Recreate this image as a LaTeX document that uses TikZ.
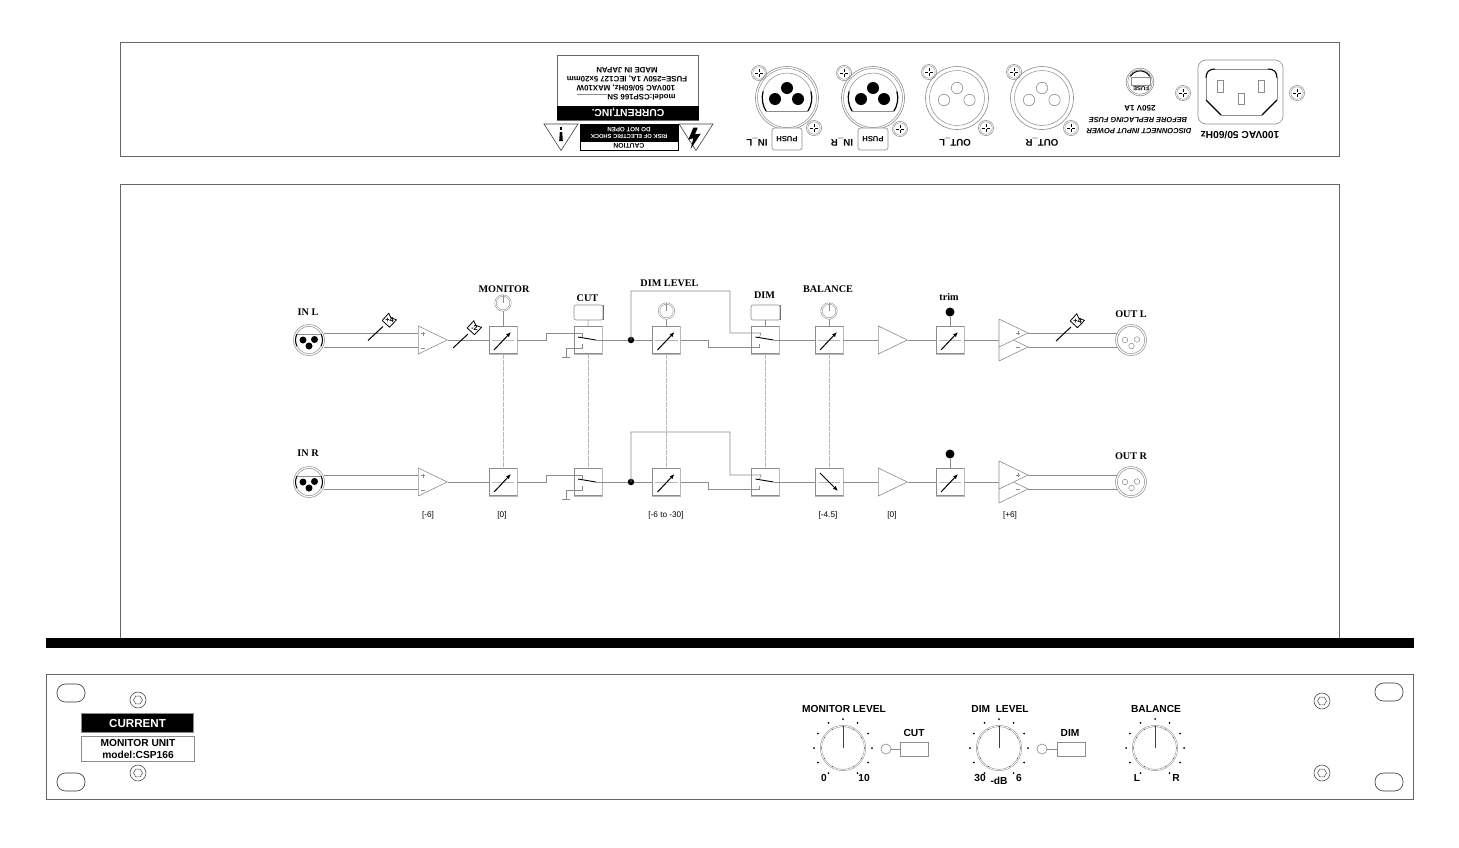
\documentclass[tikz,border=0pt]{standalone}
\usepackage{fontspec}
\setmainfont{Liberation Sans}
\newfontfamily\srf{Liberation Serif}
\usetikzlibrary{shapes.geometric,arrows.meta,calc}
\definecolor{wiregray}{gray}{0.55}
\definecolor{panelgray}{gray}{0.4}
\definecolor{boxgray}{gray}{0.72}
\tikzset{
 panel/.style={draw=panelgray,line width=0.9pt},
 wire/.style={draw=wiregray,line width=0.6pt},
 linkline/.style={draw=boxgray,line width=0.6pt,dash pattern=on 5pt off 1pt},
 unitbox/.style={draw=wiregray,line width=0.6pt,minimum width=28pt,minimum height=27.5pt,inner sep=0pt},
 amp/.style={draw=wiregray,line width=0.6pt,isosceles triangle,isosceles triangle apex angle=51.5,isosceles triangle stretches,minimum width=28pt,minimum height=29pt,inner sep=0pt,anchor=lower side},
 knobring/.style={circle,draw=wiregray,line width=0.5pt,double=white,double distance=0.9pt,minimum size=15pt,inner sep=0pt},
 push/.style={draw=wiregray,line width=0.6pt,rounded corners=2pt,minimum width=29pt,minimum height=15pt,inner sep=0pt},
 blackdot/.style={circle,fill=black,inner sep=0pt},
 dlabel/.style={font=\srf\bfseries\fontsize{10.2}{11}\selectfont,inner sep=0pt},
 gain/.style={font=\fontsize{8.2}{9}\selectfont,inner sep=0pt},
 rear/.style={font=\bfseries\fontsize{9.7}{10}\selectfont,rotate=180,inner sep=0pt},
 plate/.style={font=\bfseries\fontsize{7.85}{9}\selectfont,rotate=180,inner sep=0pt},
 front/.style={font=\bfseries\fontsize{10.2}{11}\selectfont,inner sep=0pt},
 oblong/.style={draw=black!80,line width=0.6pt,rounded corners=8.5pt,minimum width=28pt,minimum height=18pt,inner sep=0pt},
 thinring/.style={circle,draw=wiregray,line width=0.6pt,inner sep=0pt},
 arrowline/.style={line width=1pt,-{Latex[length=5pt,width=4pt]}},
}
% rear panel screw
\newcommand\rscrew[2]{%
 \begin{scope}[shift={(#1,#2)}]
  \draw[wiregray,line width=0.5pt] (0,0) circle (7.6);
  \draw[wiregray,line width=0.4pt] (0,0) circle (6.2);
  \draw[black,line width=0.9pt] (-4,0)--(-1.4,0) (1.4,0)--(4,0) (0,-4)--(0,-1.4) (0,1.4)--(0,4);
 \end{scope}}
% big rear XLR with black pins
\newcommand\bigxlr[2]{%
 \begin{scope}[shift={(#1,#2)},y=1pt]
  \draw[wiregray,line width=0.6pt] (0,0) circle (31.5);
  \draw[wiregray,line width=0.5pt] (0,0) circle (29.5);
  \draw[wiregray,line width=0.5pt] (-21,-13) arc[start angle=212,end angle=-32,radius=24.8];
  \draw[wiregray,line width=0.5pt] (-21,-13)--(21,-13);
  \draw[black,line width=1.2pt] (-21,-13) arc[start angle=212,end angle=165,radius=24.8];
  \draw[black,line width=1.2pt] (21,-13) arc[start angle=-32,end angle=15,radius=24.8];
  \fill (-12,-1) circle (6);
  \fill (0,10) circle (6);
  \fill (11,-1) circle (6);
 \end{scope}}
% big rear XLR with open holes
\newcommand\openxlr[2]{%
 \begin{scope}[shift={(#1,#2)},y=1pt]
  \draw[wiregray,line width=0.6pt] (0,0) circle (31.5);
  \draw[wiregray,line width=0.5pt] (0,0) circle (27.5);
  \draw[wiregray,line width=0.6pt] (-13,-2) circle (5.7);
  \draw[wiregray,line width=0.6pt] (0,10) circle (5.7);
  \draw[wiregray,line width=0.6pt] (12.5,-2) circle (5.7);
 \end{scope}}
% small diagram XLR, input
\newcommand\smallin[3]{%
 \node[circle,minimum size=31pt,inner sep=0pt,draw=wiregray,line width=0.5pt] (#1) at (#2,#3) {};
 \begin{scope}[shift={(#2,#3)},y=1pt]
  \draw[wiregray,line width=0.5pt] (0,0) circle (13.6);
  \draw[black,line width=1pt] (-12,6) arc[start angle=153,end angle=207,radius=13.4];
  \draw[black,line width=1pt] (12,6) arc[start angle=27,end angle=-27,radius=13.4];
  \draw[wiregray,line width=0.5pt] (-12,6)--(12,6);
  \fill (-6,0) circle (3.5);
  \fill (0,-6) circle (3.5);
  \fill (5.5,0.5) circle (3.5);
 \end{scope}}
% small diagram XLR, output
\newcommand\smallout[3]{%
 \node[circle,minimum size=31pt,inner sep=0pt,draw=wiregray,line width=0.5pt] (#1) at (#2,#3) {};
 \begin{scope}[shift={(#2,#3)},y=1pt]
  \draw[wiregray,line width=0.5pt] (0,0) circle (13.6);
  \draw[wiregray,line width=0.5pt] (-6,0) circle (2.8);
  \draw[wiregray,line width=0.5pt] (0.5,-6) circle (2.8);
  \draw[wiregray,line width=0.5pt] (6,0.5) circle (2.8);
 \end{scope}}
% variable gain unit: name, x, y, arrow start dx,dy, end dx,dy
\newcommand\vcaunit[7]{%
 \node[unitbox] (#1) at (#2,#3) {};
 \draw[boxgray,line width=1pt] (#1.north east)--(#1.south east)--(#1.south west);
 \draw[boxgray,line width=0.5pt] ($(#1.west)+(3,0)$)--($(#1.east)+(-3,0)$);
 \draw[arrowline] ($(#1.center)+(#4,#5)$)--($(#1.center)+(#6,#7)$);}
% switch unit: name, x, y
\newcommand\swunit[3]{%
 \node[unitbox] (#1) at (#2,#3) {};
 \draw[boxgray,line width=1pt] (#1.north east)--(#1.south east)--(#1.south west);
 \coordinate (#1in) at ($(#1.center)+(-6,-3)$);
 \coordinate (#1lo) at ($(#1.center)+(-6,4)$);
 \coordinate (#1out) at ($(#1.center)+(8,0)$);
 \draw[black,line width=0.9pt] ($(#1.center)+(-10,-3)$)--(#1out);
 \draw[wire] (#1out)--(#1.east);}
% level tag: x,y of stem foot, gain text
\newcommand\leveltag[4]{%
 \coordinate (#1f) at (#2,#3);
 \coordinate (#1c) at ($(#1f)+(21.5,-20)$);
 \draw[black,line width=1pt] (#1f)--($(#1f)+(15,-14)$);
 \draw[black,line width=0.8pt,fill=white,line join=round] ($(#1c)+(-7.3,0)$)--($(#1c)+(-0.7,-7.3)$)--($(#1c)+(1.3,-2.7)$)--($(#1c)+(7,-0.7)$)--($(#1c)+(0,6.7)$)--cycle;
 \node[font=\bfseries\fontsize{7.2}{8}\selectfont,inner sep=0pt] (#1t) at (#1c) {#4};}
% front panel knob: name, x, y
\newcommand\fknob[3]{%
 \node[circle,minimum size=44pt,inner sep=0pt,draw=wiregray,line width=0.5pt,double=white,double distance=0.8pt] (#1) at (#2,#3) {};
 \draw[black!75,line width=0.8pt] (#1.center)--(#1.north);
 \foreach \a in {-150,-120,...,150}{
  \fill ($(#1.center)+({29*sin(\a)},{-29*cos(\a)})$) circle (1);
  \fill ($(#1.center)+({21.5*sin(\a)},{-21.5*cos(\a)})$) circle (0.45);}}
\newcommand\hexscrew[3]{%
 \node[thinring,draw=black!70,minimum size=16pt] (#1) at (#2,#3) {};
 \node[regular polygon,regular polygon sides=6,draw=black!70,line width=0.5pt,minimum size=9pt,inner sep=0pt] (#1h) at (#2,#3) {};}
\begin{document}
\begin{tikzpicture}[x=1pt,y=-1pt]
\useasboundingbox (0,0) rectangle (1459,847);
\fill[white] (0,0) rectangle (1459,847);
% ===== panels =====
\draw[panel] (120.5,42.5) rectangle (1339.5,156.5);
\draw[panel] (120.5,638)--(120.5,184.5)--(1339.5,184.5)--(1339.5,638);
\fill[black] (46,638) rectangle (1414,647.5);
\draw[panel] (46.5,674.5) rectangle (1413.5,799.5);
% ===== rear: label plate =====
\draw[panelgray,line width=0.7pt] (557,55) rectangle (698.5,120);
\fill[black] (557,105.5) rectangle (698.5,120);
\node[rotate=180,text=white,font=\bfseries\fontsize{10.3}{11}\selectfont,inner sep=0pt] (lbrand) at (628,112.5) {CURRENT,INC.};
\node[plate] (lmade) at (627,70) {MADE IN JAPAN};
\node[plate] (lfuse) at (627,78.5) {FUSE=250V 1A, IEC127 5x20mm};
\node[plate] (lvac) at (626,87.5) {100VAC 50/60Hz, MAX10W};
\node[plate] (lmodel) at (641.5,97) {model:CSP166 SN};
\draw[wiregray,line width=0.7pt] (lmodel.east |- 0,94)--(577,94);
% caution
\draw[black,line width=0.5pt] (580,124) rectangle (678,150);
\fill[black] (580,124) rectangle (678,141.8);
\node[rotate=180,text=white,font=\bfseries\fontsize{6.2}{7}\selectfont,inner sep=0pt] (cdo) at (629,129.3) {DO NOT OPEN};
\node[rotate=180,text=white,font=\bfseries\fontsize{5.8}{6}\selectfont,inner sep=0pt] (crisk) at (629,136) {RISK OF ELECTRIC SHOCK};
\node[rotate=180,font=\bfseries\fontsize{6.8}{7}\selectfont,inner sep=0pt] (ccau) at (629,146) {CAUTION};
\draw[black!75,line width=0.6pt] (544,124)--(578,124)--(561,150.5)--cycle;
\draw[black!75,line width=0.6pt] (679,124)--(713,124)--(696,150.5)--cycle;
\fill[black] (559.8,127) rectangle (562.2,130);
\fill[black] (559.8,132)--(562.2,132)--(562.8,141)--(559.2,141)--cycle;
\fill[black] (693.3,127.7)--(697.7,127.7)--(695,134.3)--(700.7,133.7)--(690.7,149)--(693.3,138.3)--(688.3,139.7)--cycle;
% ===== rear: connectors =====
\bigxlr{787}{98}\bigxlr{873}{98}
\openxlr{957}{98}\openxlr{1042}{98}
\rscrew{759}{73}\rscrew{814}{128}\rscrew{844}{73}\rscrew{900}{129}
\rscrew{929}{72}\rscrew{986}{128}\rscrew{1014}{72}\rscrew{1071}{128}
\rscrew{1183}{93}\rscrew{1297}{93}
\fill[white] (772,128) rectangle (802,150);
\fill[white] (858,128) rectangle (888,150);
\draw[wiregray,line width=0.6pt,rounded corners=2.5pt] (772,128) rectangle (802,150);
\draw[wiregray,line width=0.6pt,rounded corners=2.5pt] (858,128) rectangle (888,150);
\node[rotate=180,font=\bfseries\fontsize{7.6}{8}\selectfont,inner sep=0pt] (pushl) at (787,139) {PUSH};
\node[rotate=180,font=\bfseries\fontsize{7.6}{8}\selectfont,inner sep=0pt] (pushr) at (873,139) {PUSH};
\node[rear] (tinl) at (757,142) {IN\_L};
\node[rear] (tinr) at (842,142) {IN\_R};
\node[rear] (toutl) at (955,142) {OUT\_L};
\node[rear] (toutr) at (1042,142) {OUT\_R};
% fuse
\begin{scope}[shift={(1140,82)},y=1pt]
 \draw[wiregray,line width=0.6pt] (0,0) circle (13.8);
 \draw[wiregray,line width=0.5pt] (0,0) circle (12.3);
 \draw[black,line width=1pt] (150:11.2) arc[start angle=150,end angle=30,radius=11.2];
 \draw[wiregray,line width=0.5pt] (-9,5)--(-9,-3)--(10,-3)--(10,5)--cycle;
\end{scope}
\node[rotate=180,font=\bfseries\fontsize{6}{6}\selectfont,inner sep=0pt] (fusetxt) at (1141,89) {FUSE};
\node[rear,font=\bfseries\fontsize{8}{9}\selectfont] (f250) at (1140,108) {250V 1A};
\node[rotate=180,font=\bfseries\itshape\fontsize{7.4}{8}\selectfont,inner sep=0pt] (fbef) at (1138,120) {BEFORE REPLACING FUSE};
\node[rotate=180,font=\bfseries\itshape\fontsize{7.5}{8}\selectfont,inner sep=0pt] (fdis) at (1139,131) {DISCONNECT INPUT POWER};
% inlet
\node[draw=wiregray,line width=0.6pt,rounded corners=8pt,minimum width=85pt,minimum height=64pt,inner sep=0pt] (inlet) at (1240.5,92) {};
\draw[wiregray,line width=0.5pt] (1206,78)--(1206,100);
\draw[wiregray,line width=0.5pt] (1277,78)--(1277,100);
\draw[wiregray,line width=0.5pt] (1215,69)--(1268,69);
\draw[wiregray,line width=0.5pt] (1221,115)--(1262,115);
\draw[black,line width=1.1pt] (1206,78) .. controls (1206,72) and (1209,69) .. (1215,69);
\draw[black,line width=1.1pt] (1277,78) .. controls (1277,72) and (1274,69) .. (1268,69);
\draw[black,line width=1.1pt] (1206,100)--(1221,115);
\draw[black,line width=1.1pt] (1277,100)--(1262,115);
\draw[wiregray,line width=0.5pt] (1217,80) rectangle (1223,92);
\draw[wiregray,line width=0.5pt] (1258,80) rectangle (1264,92);
\draw[wiregray,line width=0.5pt] (1238,93) rectangle (1244,104);
\node[rear,font=\bfseries\fontsize{10.2}{11}\selectfont] (inlettxt) at (1240,135) {100VAC 50/60Hz};
% ===== block diagram =====
\foreach \c/\y in {L/340,R/482}{
 \smallin{in\c}{309}{\y}
 \node[amp] (pre\c) at (418,\y) {};
 \draw[wiregray,line width=0.4pt] (421,\y-6.5)--(425,\y-6.5) (423,\y-8.5)--(423,\y-4.5) (421,\y+8.5)--(425,\y+8.5);
 \vcaunit{mon\c}{503}{\y}{-9}{10}{8}{-8}
 \swunit{cut\c}{588}{\y}
 \node[blackdot,minimum size=6.5pt] (nd\c) at (631,\y) {};
 \vcaunit{dl\c}{666.5}{\y}{-9}{10}{8}{-8}
 \swunit{dim\c}{765.5}{\y}
 \node[amp] (post\c) at (878,\y) {};
 \vcaunit{tr\c}{950}{\y}{-9}{10}{8}{-8}
 \smallout{out\c}{1131}{\y}
 % balanced input lines
 \coordinate (inh\c) at (323.5,\y-7);
 \coordinate (inc\c) at (323.5,\y+7);
 \draw[wire] (inh\c)--(pre\c.lower side |- inh\c);
 \draw[wire] (inc\c)--(pre\c.lower side |- inc\c);
 \draw[wire] (pre\c.apex)--(mon\c.west);
 \draw[wire] (mon\c.east)--++(29,0)--++(0,-7)--(cut\c in |- 0,\y-7)--(cut\c in);
 \coordinate (gnd\c) at (566,\y+17);
 \draw[wire] (cut\c lo)--++(0,4)--(gnd\c |- 0,\y+8)--(gnd\c);
 \draw[wire] ($(gnd\c)+(-4,0)$)--($(gnd\c)+(4,0)$);
 \draw[wire] (cut\c.east)--(nd\c.west);
 \draw[wire] (nd\c.east)--(dl\c.west);
 \draw[wire] (dl\c.east)--++(27,0)--++(0,7)--(dim\c lo |- 0,\y+7)--(dim\c lo);
 \draw[wire] (post\c.apex)--(tr\c.west);
 % balanced output stage
 \coordinate (oa\c) at (999,\y-21);
 \coordinate (ob\c) at (1028,\y-7);
 \coordinate (oc\c) at (1013.5,\y);
 \coordinate (od\c) at (1028,\y+7);
 \coordinate (oe\c) at (999,\y+21);
 \coordinate (of\c) at (999,\y+7);
 \draw[wire,line join=round] (oa\c)--(ob\c)--(of\c) (oc\c)--(od\c)--(oe\c) (oa\c)--(oe\c);
 \draw[wiregray,line width=0.4pt] (1016,\y-7)--(1020,\y-7) (1018,\y-9)--(1018,\y-5) (1016,\y+7)--(1020,\y+7);
 \draw[wire] (tr\c.east)--(oa\c |- 0,\y);
 \coordinate (outh\c) at (1116.5,\y-7);
 \coordinate (outc\c) at (1116.5,\y+7);
 \draw[wire] (ob\c)--(outh\c);
 \draw[wire] (od\c)--(outc\c);
 % trim control
 \node[blackdot,minimum size=9pt] (trk\c) at (950,\y-28) {};
 \draw[wire] (trk\c)--(tr\c.north);
}
% balance units differ in direction
\vcaunit{balL}{829}{340}{-9}{10}{8}{-8}
\vcaunit{balR}{829}{482}{-9}{-9}{9}{9}
\draw[wire] (dimL.east)--(balL.west) (balL.east)--(postL.lower side);
\draw[wire] (dimR.east)--(balR.west) (balR.east)--(postR.lower side);
% DIM side chain
\coordinate (dlnL) at (730,291);
\coordinate (dlnR) at (730,432);
\draw[wire] (ndL.center)--(ndL.center |- dlnL)--(dlnL)--(730,333)--(761,333)--(dimLin);
\draw[wire] (ndR.center)--(ndR.center |- dlnR)--(dlnR)--(730,475)--(761,475)--(dimRin);
% gang links
\draw[linkline] (monL.south)--(monR.north);
\draw[linkline] (cutL.south)--(cutR.north);
\draw[linkline] (dlL.south)--(dlR.north);
\draw[linkline] (dimL.south)--(dimR.north);
\draw[linkline] (balL.south)--(balR.north);
% controls above left channel
\node[knobring] (kmon) at (503,303) {};
\node[knobring] (kdl) at (666.5,311) {};
\node[knobring] (kbal) at (829,311) {};
\foreach \k in {kmon,kdl,kbal}{\draw[wiregray,line width=0.4pt] (\k.center)--(\k.north);}
\draw[wire] (kmon)--(monL.north);
\draw[wire] (kdl)--(dlL.north);
\draw[wire] (kbal)--(balL.north);
\node[push] (bcut) at (588.5,312.5) {};
\node[push] (bdim) at (765.5,312.5) {};
\draw[boxgray!60!black,line width=1pt] (bcut.north east)--(bcut.south east);
\draw[boxgray!60!black,line width=1pt] (bdim.north east)--(bdim.south east);
\draw[wire] (bcut)--(cutL.north);
\draw[wire] (bdim)--(dimL.north);
% level tags
\leveltag{tga}{368}{340.5}{+4}
\leveltag{tgb}{453}{348}{-2}
\leveltag{tgc}{1056}{341}{+4}
% labels
\node[dlabel] (tIL) at (308,312) {IN L};
\node[dlabel] (tIR) at (308,453) {IN R};
\node[dlabel] (tMON) at (504,289) {MONITOR};
\node[dlabel] (tCUT) at (587.5,298.5) {CUT};
\node[dlabel] (tDL) at (669.5,283) {DIM LEVEL};
\node[dlabel] (tDIM) at (764.5,295) {DIM};
\node[dlabel] (tBAL) at (828,289) {BALANCE};
\node[dlabel] (tTR) at (949,297) {trim};
\node[dlabel] (tOL) at (1131,314) {OUT L};
\node[dlabel] (tOR) at (1131,456.5) {OUT R};
\node[gain] (g1) at (428,515) {[-6]};
\node[gain] (g2) at (502,515) {[0]};
\node[gain] (g3) at (666,515) {[-6 to -30]};
\node[gain] (g4) at (828,515) {[-4.5]};
\node[gain] (g5) at (892,515) {[0]};
\node[gain] (g6) at (1010,515) {[+6]};
% ===== front panel =====
\node[oblong] (h1) at (71,693) {};
\node[oblong] (h2) at (71,782) {};
\node[oblong] (h3) at (1389,692) {};
\node[oblong] (h4) at (1389,782) {};
\hexscrew{s1}{138}{700}
\hexscrew{s2}{138}{773}
\hexscrew{s3}{1322}{701}
\hexscrew{s4}{1322}{773}
\node[draw=wiregray,fill=black,line width=1pt,minimum width=112pt,minimum height=19.5pt,inner sep=0pt,text=white,font=\bfseries\fontsize{11.6}{12}\selectfont] (brand) at (137.5,723) {CURRENT};
\node[draw=wiregray,line width=0.7pt,minimum width=113pt,minimum height=25pt,inner sep=0pt] (unitplate) at (137.5,748.5) {};
\node[front] (tunit) at (138,743) {MONITOR UNIT};
\node[front] (tmodel) at (138,754.5) {model:CSP166};
\fknob{fk1}{843}{748}
\fknob{fk2}{999}{748}
\fknob{fk3}{1155}{748}
\node[thinring,minimum size=10pt] (led1) at (886,749) {};
\node[thinring,minimum size=10pt] (led2) at (1042,749) {};
\node[draw=wiregray,line width=0.6pt,minimum width=28pt,minimum height=14pt,inner sep=0pt] (fcut) at (914,749) {};
\node[draw=wiregray,line width=0.6pt,minimum width=28pt,minimum height=14pt,inner sep=0pt] (fdim) at (1071,749) {};
\draw[wire] (led1)--(fcut);
\draw[wire] (led2)--(fdim);
\node[front] (tf1) at (844,709) {MONITOR LEVEL};
\node[front] (tf2) at (1000,709) {DIM\ \ LEVEL};
\node[front] (tf3) at (1156,709) {BALANCE};
\node[front] (tf4) at (914,733) {CUT};
\node[front] (tf5) at (1070,733) {DIM};
\node[front] (tf6) at (824,778) {0};
\node[front] (tf7) at (864,778) {10};
\node[front] (tf8) at (980,778) {30};
\node[front] (tf9) at (1019,778) {6};
\node[front] (tf10) at (999,781) {-dB};
\node[front] (tf11) at (1137,778) {L};
\node[front] (tf12) at (1176,778) {R};
\end{tikzpicture}
\end{document}
